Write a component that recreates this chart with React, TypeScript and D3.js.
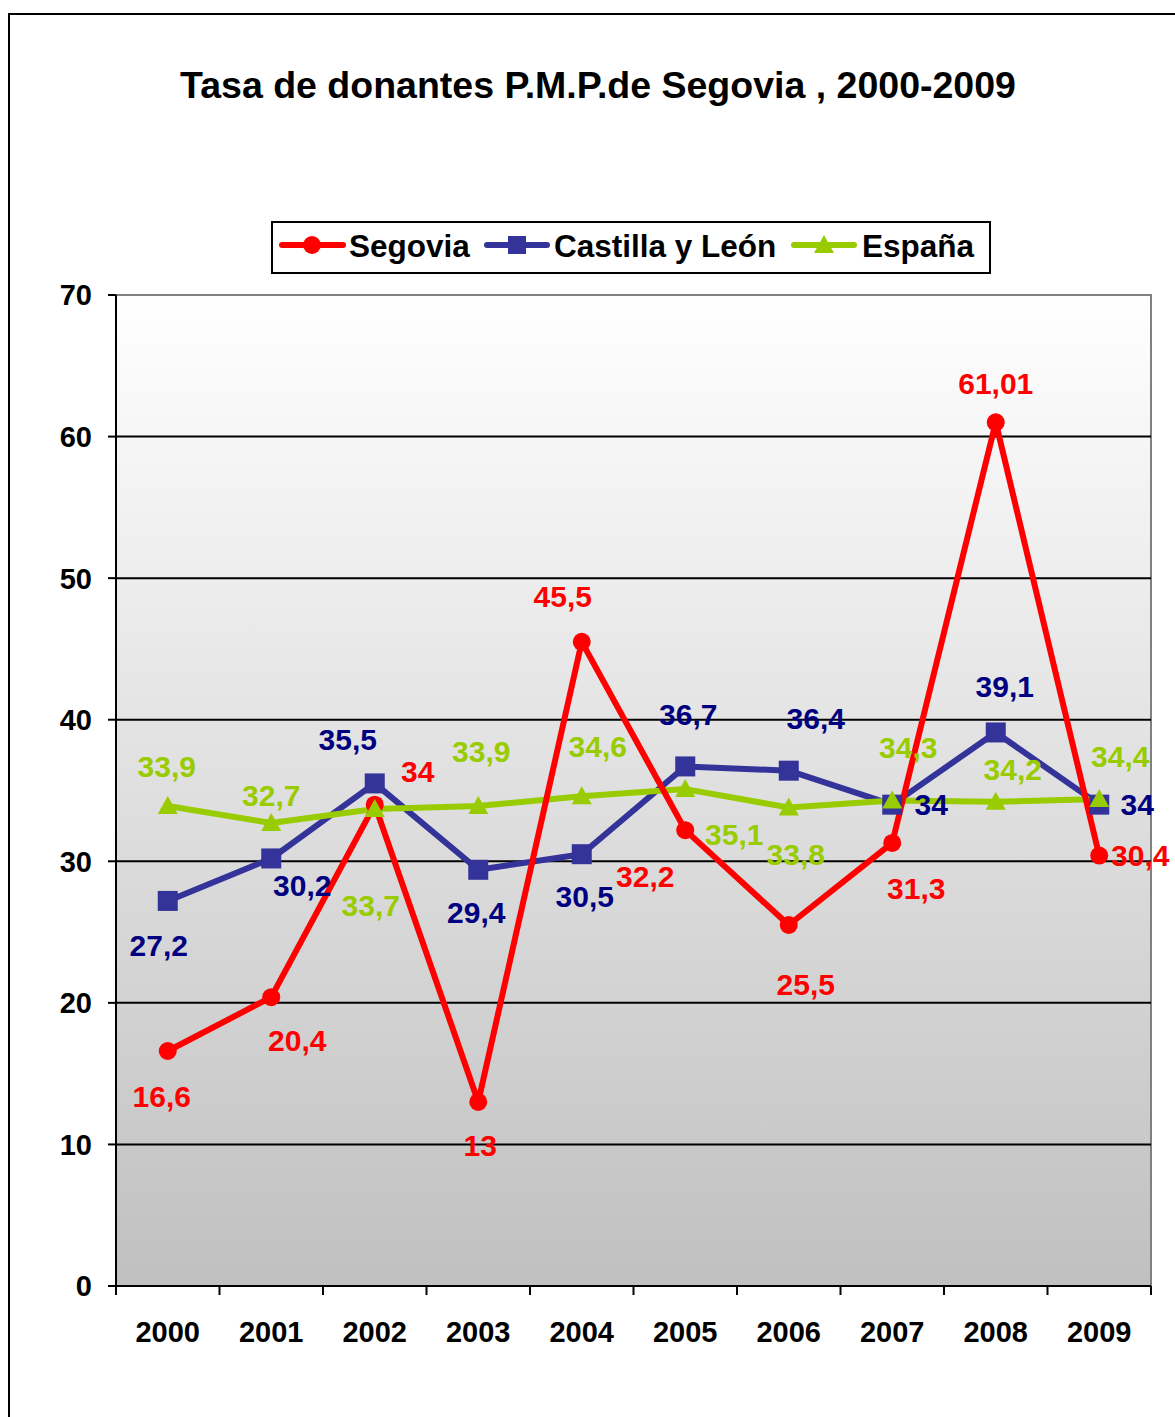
import React from "react";
import * as d3 from "d3";

const years = ["2000","2001","2002","2003","2004","2005","2006","2007","2008","2009"];
const segovia = [16.6, 20.4, 34, 13, 45.5, 32.2, 25.5, 31.3, 61.01, 30.4];
const castilla = [27.2, 30.2, 35.5, 29.4, 30.5, 36.7, 36.4, 34, 39.1, 34];
const espana = [33.9, 32.7, 33.7, 33.9, 34.6, 35.1, 33.8, 34.3, 34.2, 34.4];
const segoviaLabels = ["16,6","20,4","34","13","45,5","32,2","25,5","31,3","61,01","30,4"];
const castillaLabels = ["27,2","30,2","35,5","29,4","30,5","36,7","36,4","34","39,1","34"];
const espanaLabels = ["33,9","32,7","33,7","33,9","34,6","35,1","33,8","34,3","34,2","34,4"];
const yTicks = [0, 10, 20, 30, 40, 50, 60, 70];

// label offsets (dx, dy) relative to the point, in px
const segOff: [number, number][] = [[-6,45],[26,43],[43,-33],[2,43],[-19,-46],[-40,46],[17,59],[24,45],[0,-39],[41,0]];
const casOff: [number, number][] = [[-9,44],[31,27],[-27,-44],[-2,42],[3,42],[3,-52],[27,-52],[39,0],[9,-46],[38,0]];
const espOff: [number, number][] = [[-1,-40],[0,-28],[-4,96],[3,-55],[16,-50],[49,45],[7,47],[16,-53],[17,-33],[21,-43]];

const RED = "#FF0000";
const BLUE = "#333399";
const NAVY = "#000080";
const GREEN = "#99CC00";
const FONT = "Arial, 'Liberation Sans', sans-serif";

export default function App() {
  const L = 116, R = 1151, T = 295, B = 1286;
  const x = d3.scaleBand<string>().domain(years).range([L, R]);
  const y = d3.scaleLinear().domain([0, 70]).range([B, T]);
  const cx = (i: number) => (x(years[i]) as number) + x.bandwidth() / 2;
  const line = d3.line<number>().x((_, i) => cx(i)).y((d) => y(d));

  const tri = (px: number, py: number, s = 10) =>
    `M${px},${py - s}L${px + s},${py + s * 0.8}L${px - s},${py + s * 0.8}Z`;

  const labels = (vals: number[], texts: string[], off: [number, number][], color: string) =>
    vals.map((v, i) => (
      <text key={i} x={cx(i) + off[i][0]} y={y(v) + off[i][1]} dy="0.36em" textAnchor="middle"
        fontSize={30} fontWeight="bold" fill={color} fontFamily={FONT}>{texts[i]}</text>
    ));

  const xTickPos = years.map((yr) => x(yr) as number).concat([R]);

  return (
    <svg width={1175} height={1417} style={{ position: "absolute", left: 0, top: 0 }}>
      <defs>
        <linearGradient id="bg" x1="0" y1="0" x2="0" y2="1">
          <stop offset="0%" stopColor="#ffffff" />
          <stop offset="100%" stopColor="#c0c0c0" />
        </linearGradient>
      </defs>
      <rect x={0} y={0} width={1175} height={1417} fill="#ffffff" />
      <rect x={9} y={14} width={1200} height={1450} fill="none" stroke="#000" strokeWidth={2} />
      <text x={598} y={98} textAnchor="middle" fontSize={37.5} fontWeight="bold" fontFamily={FONT}>
        Tasa de donantes P.M.P.de Segovia , 2000-2009
      </text>

      {/* legend */}
      <rect x={272} y={222} width={718} height={51} fill="#fff" stroke="#000" strokeWidth={2} />
      <line x1={282} x2={343} y1={245} y2={245} stroke={RED} strokeWidth={6} strokeLinecap="round" />
      <circle cx={312} cy={245} r={9} fill={RED} />
      <text x={349} y={257} fontSize={31.5} fontWeight="bold" fontFamily={FONT}>Segovia</text>
      <line x1={487} x2={547} y1={245} y2={245} stroke={BLUE} strokeWidth={6} strokeLinecap="round" />
      <rect x={508} y={236} width={18} height={18} fill={BLUE} />
      <text x={554} y={257} fontSize={31.5} fontWeight="bold" fontFamily={FONT}>Castilla y León</text>
      <line x1={794} x2={854} y1={245} y2={245} stroke={GREEN} strokeWidth={6} strokeLinecap="round" />
      <path d={tri(824, 245)} fill={GREEN} />
      <text x={862} y={257} fontSize={31.5} fontWeight="bold" fontFamily={FONT}>España</text>

      {/* plot area */}
      <rect x={L} y={T} width={R - L} height={B - T} fill="url(#bg)" stroke="#808080" strokeWidth={2} />
      {yTicks.filter((t) => t > 0 && t < 70).map((t) => (
        <line key={t} x1={L} x2={R} y1={y(t)} y2={y(t)} stroke="#000" strokeWidth={2} />
      ))}
      <line x1={L} x2={L} y1={T} y2={B} stroke="#000" strokeWidth={2} />
      <line x1={L} x2={R} y1={B} y2={B} stroke="#000" strokeWidth={2} />
      {yTicks.map((t) => (
        <g key={t}>
          <line x1={L - 8} x2={L} y1={y(t)} y2={y(t)} stroke="#000" strokeWidth={2} />
          <text x={92} y={y(t)} dy="0.36em" textAnchor="end" fontSize={29} fontWeight="bold" fontFamily={FONT}>{t}</text>
        </g>
      ))}
      {xTickPos.map((p, i) => (
        <line key={i} x1={p} x2={p} y1={B} y2={B + 9} stroke="#000" strokeWidth={2} />
      ))}
      {years.map((yr, i) => (
        <text key={yr} x={cx(i)} y={1342} textAnchor="middle" fontSize={29} fontWeight="bold" fontFamily={FONT}>{yr}</text>
      ))}

      {/* lines */}
      <path d={line(castilla) as string} fill="none" stroke={BLUE} strokeWidth={6} strokeLinejoin="round" />
      <path d={line(espana) as string} fill="none" stroke={GREEN} strokeWidth={6} strokeLinejoin="round" />
      <path d={line(segovia) as string} fill="none" stroke={RED} strokeWidth={6} strokeLinejoin="round" />

      {/* markers */}
      {castilla.map((v, i) => (
        <rect key={"c" + i} x={cx(i) - 10} y={y(v) - 10} width={20} height={20} fill={BLUE} />
      ))}
      {segovia.map((v, i) => (
        <circle key={"s" + i} cx={cx(i)} cy={y(v)} r={9} fill={RED} />
      ))}
      {espana.map((v, i) => (
        <path key={"e" + i} d={tri(cx(i), y(v))} fill={GREEN} />
      ))}

      {/* data labels */}
      {labels(espana, espanaLabels, espOff, GREEN)}
      {labels(castilla, castillaLabels, casOff, NAVY)}
      {labels(segovia, segoviaLabels, segOff, RED)}
    </svg>
  );
}
